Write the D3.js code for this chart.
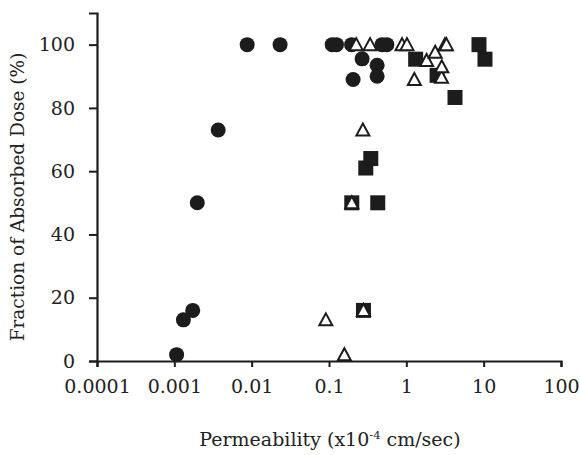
<!DOCTYPE html>
<html>
<head>
<meta charset="utf-8">
<script src="https://cdn.jsdelivr.net/npm/d3@7"></script>
<style>
  body { margin: 0; background: #fff; }
  svg text { font-family: "DejaVu Serif", serif; fill: #222; }
</style>
</head>
<body>
<div id="chart"></div>
<script>
// values
const xTicks = [0.0001, 0.001, 0.01, 0.1, 1, 10, 100];
const xTickLabels = ["0.0001", "0.001", "0.01", "0.1", "1", "10", "100"];
const yTicks = [0, 20, 40, 60, 80, 100];

// filled circles
const circlePerm = [0.00107, 0.00131, 0.00173, 0.00198, 0.00369, 0.00875, 0.0233, 0.11, 0.125, 0.196, 0.205, 0.268, 0.419, 0.419, 0.485, 0.56];
const circleFrac = [2, 13, 16, 50, 73, 100, 100, 100, 100, 100, 89, 95.5, 93.5, 90, 100, 100];

// filled squares
const squarePerm = [0.197, 0.279, 0.299, 0.347, 0.427, 1.32, 2.5, 4.26, 8.7, 10.4];
const squareFrac = [50, 16, 61, 64, 50, 95.4, 90.3, 83.3, 100, 95.4];

// open triangles
const triPerm = [0.091, 0.158, 0.197, 0.274, 0.279, 0.225, 0.34, 0.88, 1.02, 1.27, 1.83, 2.36, 2.85, 2.87, 3.16, 3.3];
const triFrac = [13, 2, 50, 73, 16, 100, 100, 100, 100, 89, 95, 97.6, 89.7, 93, 100, 100];

const width = 580, height = 455;
const margin = { top: 13, right: 19, bottom: 94, left: 97 };
const ink = "#1c1c1c";

const svg = d3.select("#chart").append("svg")
  .attr("width", width)
  .attr("height", height);

const x = d3.scaleLog()
  .domain([0.0001, 100])
  .range([margin.left, width - margin.right]);

const y = d3.scaleLinear()
  .domain([0, 110])
  .range([height - margin.bottom, margin.top]);

// axes
const xAxis = svg.append("g")
  .attr("transform", `translate(0,${height - margin.bottom})`)
  .call(d3.axisBottom(x).tickValues(xTicks).tickFormat((d, i) => xTickLabels[i]).tickSize(6).tickPadding(13));

const yAxis = svg.append("g")
  .attr("transform", `translate(${margin.left},0)`)
  .call(d3.axisLeft(y).tickValues(yTicks).tickSize(8).tickPadding(14));

[xAxis, yAxis].forEach(g => {
  g.select(".domain").attr("stroke", ink).attr("stroke-width", 2.2);
  g.selectAll(".tick line").attr("stroke", ink).attr("stroke-width", 2);
  g.selectAll(".tick text").attr("font-size", 19).style("fill", "#222");
});

// circles first
svg.append("g")
  .selectAll("circle")
  .data(circlePerm.map((p, i) => [p, circleFrac[i]]))
  .join("circle")
  .attr("cx", d => x(d[0]))
  .attr("cy", d => y(d[1]))
  .attr("r", 7.5)
  .attr("fill", ink);

// squares
const sq = 15;
svg.append("g")
  .selectAll("rect")
  .data(squarePerm.map((p, i) => [p, squareFrac[i]]))
  .join("rect")
  .attr("x", d => x(d[0]) - sq / 2)
  .attr("y", d => y(d[1]) - sq / 2)
  .attr("width", sq)
  .attr("height", sq)
  .attr("fill", ink);

// open triangles on top
svg.append("g")
  .selectAll("path")
  .data(triPerm.map((p, i) => [p, triFrac[i]]))
  .join("path")
  .attr("transform", d => `translate(${x(d[0])},${y(d[1])})`)
  .attr("d", "M0,-6.5L6.5,5.5L-6.5,5.5Z")
  .attr("fill", "#fff")
  .attr("stroke", ink)
  .attr("stroke-width", 2)
  .attr("stroke-linejoin", "miter");

// axis titles
const xTitle = svg.append("text")
  .attr("x", (margin.left + width - margin.right) / 2 + 1)
  .attr("y", 446)
  .attr("text-anchor", "middle")
  .attr("font-size", 19);
xTitle.append("tspan").text("Permeability (x10");
xTitle.append("tspan").attr("font-size", 11.5).attr("dy", -7).text("-4");
xTitle.append("tspan").attr("dy", 7).text(" cm/sec)");

svg.append("text")
  .attr("transform", `translate(24,${(margin.top + height - margin.bottom) / 2 + 10}) rotate(-90)`)
  .attr("text-anchor", "middle")
  .attr("font-size", 18.5)
  .text("Fraction of Absorbed Dose (%)");
</script>
</body>
</html>
